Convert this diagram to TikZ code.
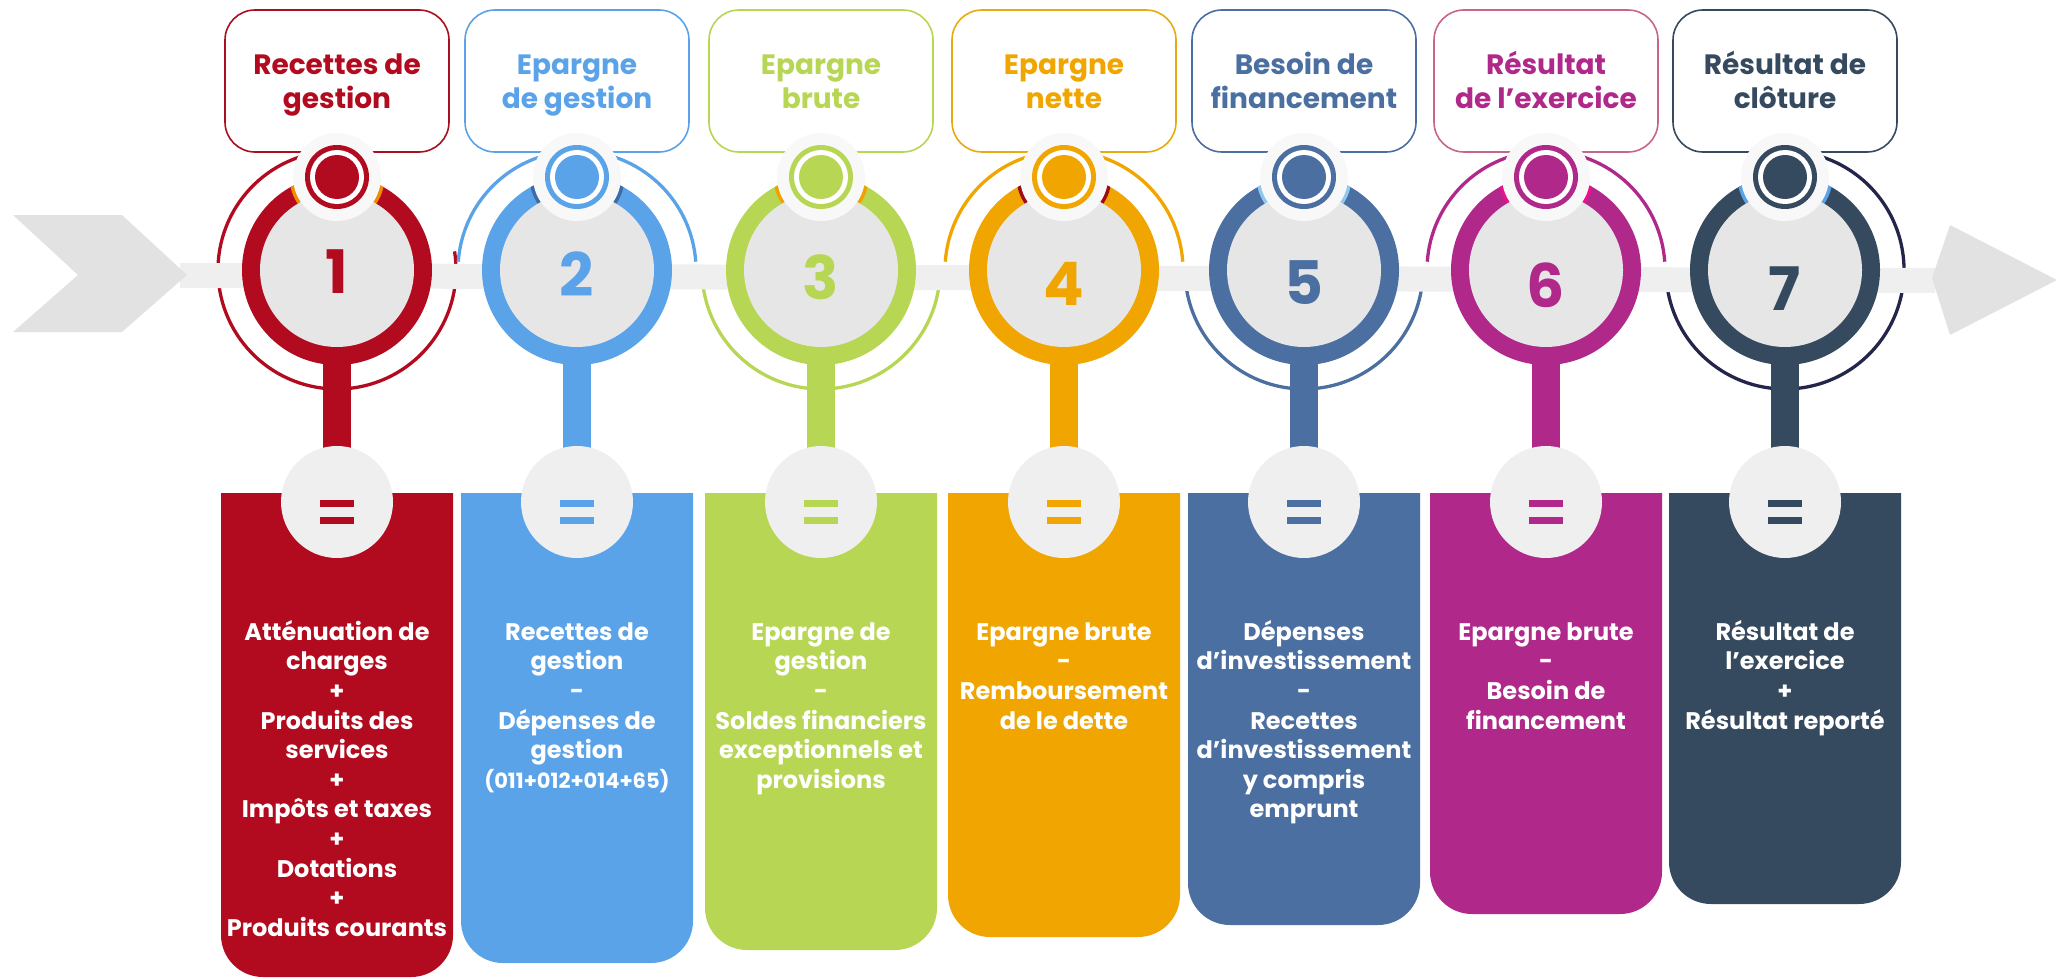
\documentclass[tikz,border=0pt]{standalone}
\usepackage{fontspec}
\setmainfont{Poppins}
\definecolor{c1}{HTML}{B20A1E}
\definecolor{c2}{HTML}{5BA3E8}
\definecolor{c3}{HTML}{B7D654}
\definecolor{c4}{HTML}{F0A500}
\definecolor{c5}{HTML}{4A6FA0}
\definecolor{c6}{HTML}{B0298A}
\definecolor{c7}{HTML}{364A5F}
\definecolor{b1}{HTML}{A8101E}
\definecolor{b2}{HTML}{5BA3E8}
\definecolor{b3}{HTML}{B7D654}
\definecolor{b4}{HTML}{E8AA10}
\definecolor{b5}{HTML}{4A6FA0}
\definecolor{b6}{HTML}{C8658A}
\definecolor{b7}{HTML}{364A5F}
\definecolor{a1}{HTML}{F08C00}
\definecolor{a2}{HTML}{3C6BA5}
\definecolor{a3}{HTML}{F0A000}
\definecolor{a4}{HTML}{A00A14}
\definecolor{a5}{HTML}{90C8F0}
\definecolor{a6}{HTML}{E8128C}
\definecolor{a7}{HTML}{5BA3E8}
\definecolor{arc7}{HTML}{23264A}
\definecolor{bargray}{HTML}{EFEFEF}
\definecolor{chevgray}{HTML}{E2E2E2}
\definecolor{diskgray}{HTML}{E6E6E6}
\definecolor{eqgray}{HTML}{EFEFEF}
\definecolor{halocol}{HTML}{F8F8F8}
\tikzset{
  titletxt/.style={font=\fontsize{28}{34}\selectfont\bfseries, align=center, anchor=north, inner sep=0pt},
  bodytxt/.style={font=\fontsize{24}{29.6}\selectfont\bfseries, text=white, align=center, anchor=north, inner sep=0pt},
  digit/.style={font=\fontsize{60}{60}\selectfont\bfseries, inner sep=0pt},
  thinline/.style={line width=3.3pt},
}
% thin outer arc: #1 cx, #2 colour, #3 start angle, #4 end angle
\newcommand\thinarc[4]{%
  \draw[thinline,#2] (#1,-270) ++(#3:119) arc[start angle=#3,end angle=#4,radius=119];}
% stage: #1 index, #2 cx, #3 box bottom, #4 digit y, #5 title, #6 body, #7 extra body style
\newcommand\stage[7]{%
  \draw[b#1,line width=1.6pt,fill=white,rounded corners=30pt] (#2-112,-10) rectangle (#2+112,-152);
  \node[titletxt,text=c#1] (title#1) at (#2,-46) {\rule{0pt}{28pt}#5};
  \fill[c#1] (#2-14,-270) rectangle (#2+14,-495);
  \fill[c#1] (#2-116,-493) -- (#2-116,-#3+42) arc[start angle=180,end angle=270,radius=42]
     -- (#2+74,-#3) arc[start angle=270,end angle=360,radius=42] -- (#2+116,-493) -- cycle;
  \fill[c#1] (#2,-270) circle[radius=95];
  \begin{scope}
    \clip (#2,-270) circle[radius=95];
    \fill[a#1] (#2,-177) circle[radius=47.5];
  \end{scope}
  \fill[diskgray] (#2,-270) circle[radius=77];
  \fill[halocol] (#2,-177) circle[radius=44];
  \fill[c#1] (#2,-177) circle[radius=32];
  \fill[white] (#2,-177) circle[radius=27];
  \fill[c#1] (#2,-177) circle[radius=22];
  \node[digit,text=c#1] (num#1) at (#2,-#4) {#1};
  \fill[eqgray] (#2,-502) circle[radius=56];
  \fill[c#1] (#2-17,-499.5) rectangle (#2+17,-506.5);
  \fill[c#1] (#2-17,-516.5) rectangle (#2+17,-523.5);
  \node[bodytxt,#7] (body#1) at (#2,-615) {\rule{0pt}{25pt}#6};
}
\begin{document}
\begin{tikzpicture}[x=1pt,y=1pt]
\useasboundingbox (0,0) rectangle (2069,-979);
% outer thin arcs
\thinarc{337}{c1}{100}{369}
\thinarc{577}{c2}{4}{176}
\thinarc{821}{c3}{184}{356}
\thinarc{1064}{c4}{4}{176}
\thinarc{1304}{c5}{184}{356}
\thinarc{1546}{c6}{4}{176}
\thinarc{1785}{arc7}{-170}{80}
% timeline bar, chevron and arrow head
\fill[bargray] (180,-263) -- (1935,-268) -- (1935,-293) -- (180,-288) -- cycle;
\fill[chevgray] (13,-215) -- (122,-215) -- (187,-275) -- (122,-332) -- (13,-332) -- (78,-275) -- cycle;
\fill[chevgray] (1950,-225) -- (2057,-280) -- (1950,-335) -- (1932,-278) -- cycle;
% stages
\stage{1}{337}{977}{272}{Recettes de\\gestion}
  {Atténuation de\\charges\\+\\Produits des\\services\\+\\Impôts et taxes\\+\\Dotations\\+\\Produits courants}{}
\stage{2}{577}{963}{274}{Epargne\\de gestion}
  {Recettes de\\gestion\\-\\Dépenses de\\gestion\\{\fontsize{21}{29.6}\selectfont(011+012+014+65)}}{}
\stage{3}{821}{950}{277}{Epargne\\brute}
  {Epargne de\\gestion\\-\\Soldes financiers\\exceptionnels et\\provisions}{}
\stage{4}{1064}{937}{284}{Epargne\\nette}
  {Epargne brute\\-\\Remboursement\\de le dette}{}
\stage{5}{1304}{925}{283}{Besoin de\\financement}
  {Dépenses\\d’investissement\\-\\Recettes\\d’investissement\\y compris\\emprunt}{}
\stage{6}{1546}{914}{285}{Résultat\\de l’exercice}
  {Epargne brute\\-\\Besoin de\\financement}{}
\stage{7}{1785}{904}{289}{Résultat de\\clôture}
  {Résultat de\\l’exercice\\+\\Résultat reporté}{}
\end{tikzpicture}
\end{document}
